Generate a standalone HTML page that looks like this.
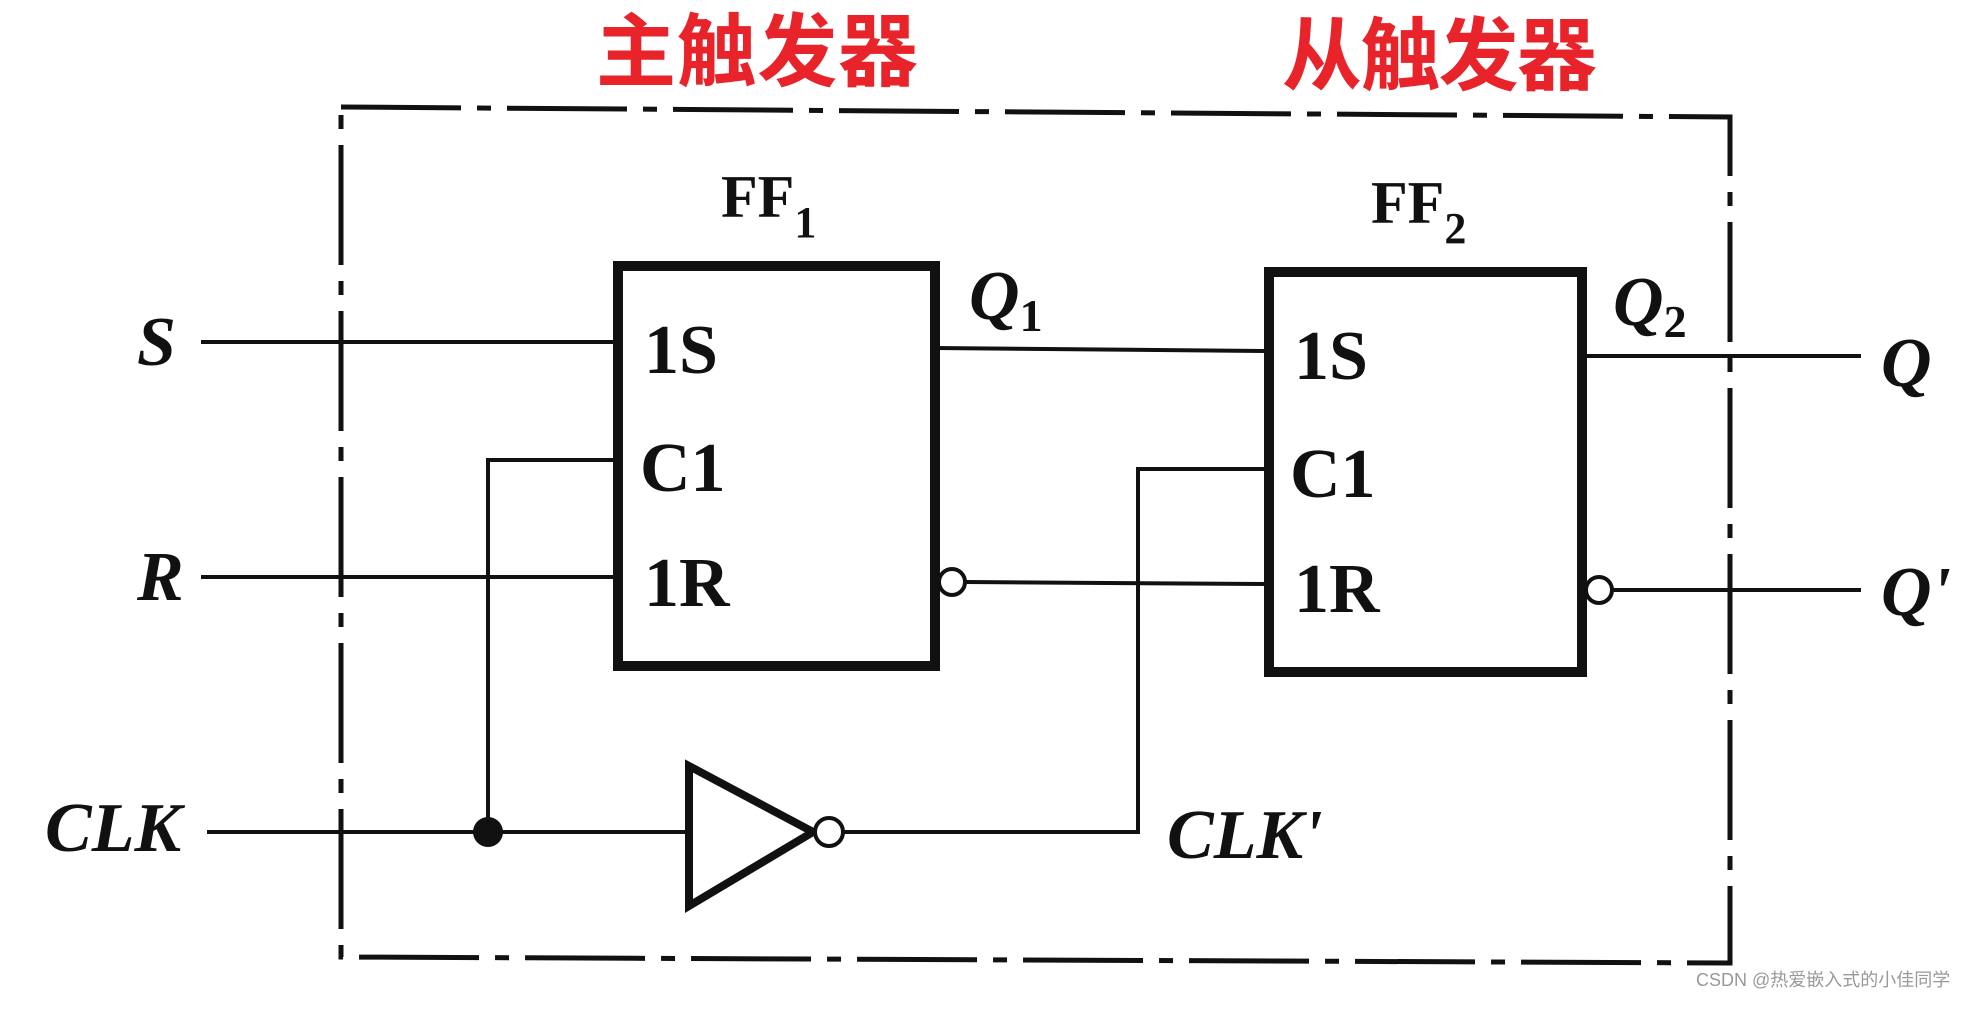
<!DOCTYPE html>
<html><head><meta charset="utf-8"><style>
html,body{margin:0;padding:0;background:#fff;}
svg{display:block;}
.t{font-family:"Liberation Serif",serif;font-weight:bold;fill:#111;}
.i{font-style:italic;}
.cn{font-family:"Liberation Sans","Noto Sans CJK SC",sans-serif;font-weight:bold;fill:#e8232a;}
</style></head><body>
<svg width="1982" height="1010" viewBox="0 0 1982 1010" xmlns="http://www.w3.org/2000/svg">
<rect width="1982" height="1010" fill="#fff"/>
<text class="cn" x="596" y="80" font-size="80" textLength="322">主触发器</text>
<text class="cn" x="1282" y="84" font-size="80" textLength="315">从触发器</text>
<g fill="none" stroke="#111" stroke-width="5" stroke-dasharray="120 16 14 16">
<path d="M341 107 L1730 117 L1730 963 L341 957 Z"/>
</g>
<g stroke="#111" stroke-width="4" fill="none">
<line x1="201" y1="342" x2="613" y2="342"/>
<line x1="201" y1="577" x2="613" y2="577"/>
<polyline points="613,460 488,460 488,832"/>
<line x1="207" y1="832" x2="686" y2="832"/>
<line x1="935" y1="348" x2="1264" y2="351"/>
<line x1="966" y1="582" x2="1264" y2="584"/>
<polyline points="843,832 1138,832 1138,469 1264,469"/>
<line x1="1582" y1="356" x2="1861" y2="356"/>
<line x1="1613" y1="590" x2="1861" y2="590"/>
</g>
<g stroke="#111" stroke-width="10" fill="none">
<rect x="618" y="266" width="317" height="400"/>
<rect x="1269" y="272" width="313" height="400"/>
<polygon points="689,766 689,906 813,832" stroke-width="8" stroke-linejoin="miter"/>
</g>
<g stroke="#111" stroke-width="4" fill="#fff">
<circle cx="952" cy="582" r="13"/>
<circle cx="1599" cy="590" r="13"/>
<circle cx="829" cy="832" r="14"/>
</g>
<circle cx="488" cy="832" r="15" fill="#111"/>
<text class="t" x="721" y="217" font-size="60">FF<tspan font-size="44" dy="20">1</tspan></text>
<text class="t" x="1371" y="223" font-size="60">FF<tspan font-size="44" dy="20">2</tspan></text>
<g class="t" font-size="70">
<text x="644" y="373">1S</text><text x="640" y="491">C1</text><text x="644" y="606">1R</text>
<text x="1294" y="379">1S</text><text x="1290" y="497">C1</text><text x="1294" y="612">1R</text>
</g>
<g class="t i" font-size="70">
<text x="137" y="365">S</text>
<text x="137" y="600">R</text>
<text x="45" y="851">CLK</text>
<text x="1167" y="858">CLK'</text>
<text x="1881" y="386">Q</text>
<text x="1881" y="615">Q'</text>
<text x="969" y="319">Q<tspan font-style="normal" font-size="46" dy="12">1</tspan></text>
<text x="1613" y="325">Q<tspan font-style="normal" font-size="46" dy="12">2</tspan></text>
</g>
<text x="1696" y="986" font-family="Liberation Sans,'Noto Sans CJK SC',sans-serif" font-size="18" fill="#999">CSDN @热爱嵌入式的小佳同学</text>
</svg>
</body></html>
